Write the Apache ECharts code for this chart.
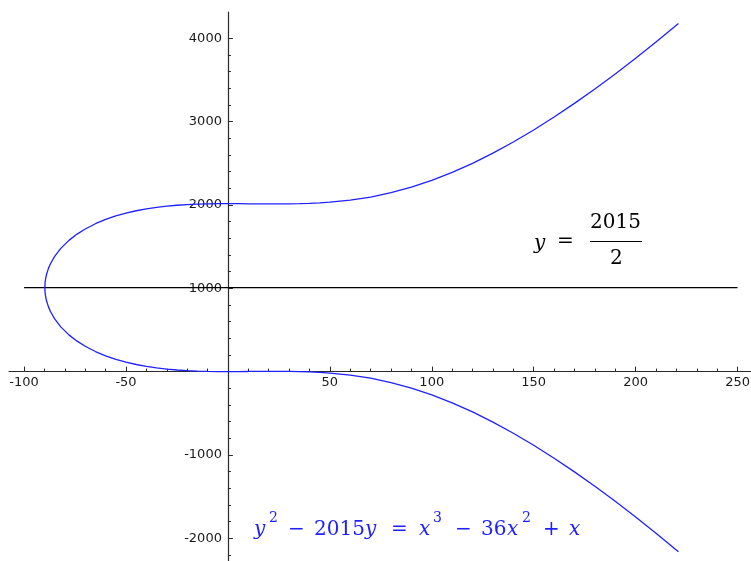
<!DOCTYPE html>
<html>
<head>
<meta charset="utf-8">
<script src="https://cdn.jsdelivr.net/npm/echarts@6/dist/echarts.min.js"></script>
<style>
  html, body { margin: 0; padding: 0; background: #fff; }
  #chart { width: 751px; height: 561px; }
</style>
</head>
<body>
<div id="chart"></div>
<script>
// points, upper and lower branch share the x values
var curveX = [-89.82, -89.7, -89.5, -89, -88, -87, -85, -82, -78, -74, -70, -65, -60, -55, -50, -45, -40, -35, -30, -25, -20, -15, -10, -5,
  0, 5, 10, 15, 20, 25, 30, 35, 40, 45, 50, 60, 70, 80, 90, 100, 110, 120, 130, 140, 150, 160, 170, 180, 190, 200, 210, 221];
var upperY = [1007.5, 1067.3, 1105.9, 1165.1, 1241.4, 1297.3, 1382.7, 1478.2, 1574.4, 1649.9, 1711.5, 1774.5, 1825.7, 1867.6, 1901.9, 1930.0, 1952.7, 1970.9, 1985.1, 1995.9, 2003.8, 2009.3, 2012.7, 2014.5,
  2015.0, 2014.6, 2013.7, 2012.7, 2011.8, 2011.6, 2012.3, 2014.4, 2018.2, 2024.0, 2032.3, 2057.0, 2094.6, 2146.2, 2212.7, 2294.0, 2389.7, 2499.1, 2621.1, 2755.0, 2899.6, 3054.4, 3218.3, 3391.0, 3571.6, 3759.8, 3955.2, 4177.8];
var lowerY = [1007.5, 947.7, 909.1, 849.9, 773.6, 717.7, 632.3, 536.8, 440.6, 365.1, 303.5, 240.5, 189.3, 147.4, 113.1, 85.0, 62.3, 44.1, 29.9, 19.1, 11.2, 5.7, 2.3, 0.5,
  0.0, 0.4, 1.3, 2.3, 3.2, 3.4, 2.7, 0.6, -3.2, -9.0, -17.3, -42.0, -79.6, -131.2, -197.7, -279.0, -374.7, -484.1, -606.1, -740.0, -884.6, -1039.4, -1203.3, -1376.0, -1556.6, -1744.8, -1940.2, -2162.8];

// horizontal line y = 2015/2
var hLineX = [-100, 250];
var hLineY = 1007.5;

var xLabels = [-100, -50, 50, 100, 150, 200, 250];
var xMinor = [-90, -80, -70, -60, -40, -30, -20, -10, 10, 20, 30, 40, 60, 70, 80, 90, 110, 120, 130, 140, 160, 170, 180, 190, 210, 220, 230, 240];
var yLabels = [-2000, -1000, 1000, 2000, 3000, 4000];
var yMinor = [-2200, -1800, -1600, -1400, -1200, -800, -600, -400, -200, 200, 400, 600, 800, 1200, 1400, 1600, 1800,
  2200, 2400, 2600, 2800, 3200, 3400, 3600, 3800];

var curve = [];
for (var i = curveX.length - 1; i >= 0; i--) curve.push([curveX[i], lowerY[i]]);
for (var j = 1; j < curveX.length; j++) curve.push([curveX[j], upperY[j]]);

// plot box and where the axes cross (pixels)
var gridL = 9, gridT = 12, gridW = 742, gridH = 549;
var xMin = -107.4, xMax = 256.6, yMin = -2273, yMax = 4315;
var zeroPx = gridL + (0 - xMin) / (xMax - xMin) * gridW;
var zeroPy = gridT + (yMax - 0) / (yMax - yMin) * gridH;
var xOffset = zeroPy - (gridT + gridH);   // pull bottom axis up to y = 0
var yOffset = gridL - zeroPx;             // pull left axis right to x = 0

var axisColor = '#2a2a2a';
var labelFont = { fontFamily: 'DejaVu Sans', fontSize: 13, color: '#1a1a1a', formatter: function (v) { return String(v); } };

function mathText(str, x, y, size, italic, color) {
  return {
    type: 'text', x: x, y: y,
    style: {
      text: str, fill: color, align: 'left', verticalAlign: 'middle',
      font: (italic ? 'italic ' : '') + size + 'px "DejaVu Serif"'
    }
  };
}

var blue = '#2020ff';
var formula = [
  mathText('y', 254, 530, 20, true, blue),
  mathText('2', 269, 518, 14, false, blue),
  mathText('\u2212', 288, 530, 20, false, blue),
  mathText('2015', 314, 530, 20, false, blue),
  mathText('y', 365, 530, 20, true, blue),
  mathText('=', 391, 530, 20, false, blue),
  mathText('x', 419, 530, 20, true, blue),
  mathText('3', 433, 518, 14, false, blue),
  mathText('\u2212', 455, 530, 20, false, blue),
  mathText('36', 481, 530, 20, false, blue),
  mathText('x', 507, 530, 20, true, blue),
  mathText('2', 522, 518, 14, false, blue),
  mathText('+', 543, 530, 20, false, blue),
  mathText('x', 569, 530, 20, true, blue)
];
var fraction = [
  mathText('y', 534, 244, 20, true, '#000'),
  mathText('=', 557, 242, 20, false, '#000'),
  mathText('2015', 590, 223, 20, false, '#000'),
  mathText('2', 610, 259, 20, false, '#000'),
  { type: 'line', shape: { x1: 590, y1: 241.5, x2: 642, y2: 241.5 }, style: { stroke: '#000', lineWidth: 1 } }
];

function xAxisOf(ticks, len, showLine, labels) {
  return {
    type: 'value', min: xMin, max: xMax, position: 'bottom', offset: xOffset,
    axisLine: { show: showLine, onZero: false, lineStyle: { color: axisColor, width: 1.2 } },
    axisTick: { show: true, inside: true, length: len, customValues: ticks, lineStyle: { color: axisColor } },
    axisLabel: labels ? Object.assign({ customValues: labels, margin: 5 }, labelFont) : { show: false },
    splitLine: { show: false }
  };
}
function yAxisOf(ticks, len, showLine, labels) {
  return {
    type: 'value', min: yMin, max: yMax, position: 'left', offset: yOffset,
    axisLine: { show: showLine, onZero: false, lineStyle: { color: axisColor, width: 1.2 } },
    axisTick: { show: true, inside: true, length: len, customValues: ticks, lineStyle: { color: axisColor } },
    axisLabel: labels ? Object.assign({ customValues: labels, margin: 6 }, labelFont) : { show: false },
    splitLine: { show: false }
  };
}

var chart = echarts.init(document.getElementById('chart'));
chart.setOption({
  animation: false,
  backgroundColor: '#fff',
  grid: { left: gridL, top: gridT, width: gridW, height: gridH, containLabel: false, outerBoundsMode: 'none' },
  xAxis: [xAxisOf(xLabels, 5, true, xLabels), xAxisOf(xMinor, 3, false, null)],
  yAxis: [yAxisOf(yLabels, 5, true, yLabels), yAxisOf(yMinor, 3, false, null)],
  series: [
    {
      type: 'line', xAxisIndex: 0, yAxisIndex: 0,
      data: hLineX.map(function (x) { return [x, hLineY]; }),
      showSymbol: false, silent: true,
      lineStyle: { color: '#000', width: 1.3 }
    },
    {
      type: 'line', xAxisIndex: 0, yAxisIndex: 0,
      data: curve, showSymbol: false, silent: true, clip: false,
      lineStyle: { color: blue, width: 1.3 }
    }
  ],
  graphic: formula.concat(fraction)
});
</script>
</body>
</html>
